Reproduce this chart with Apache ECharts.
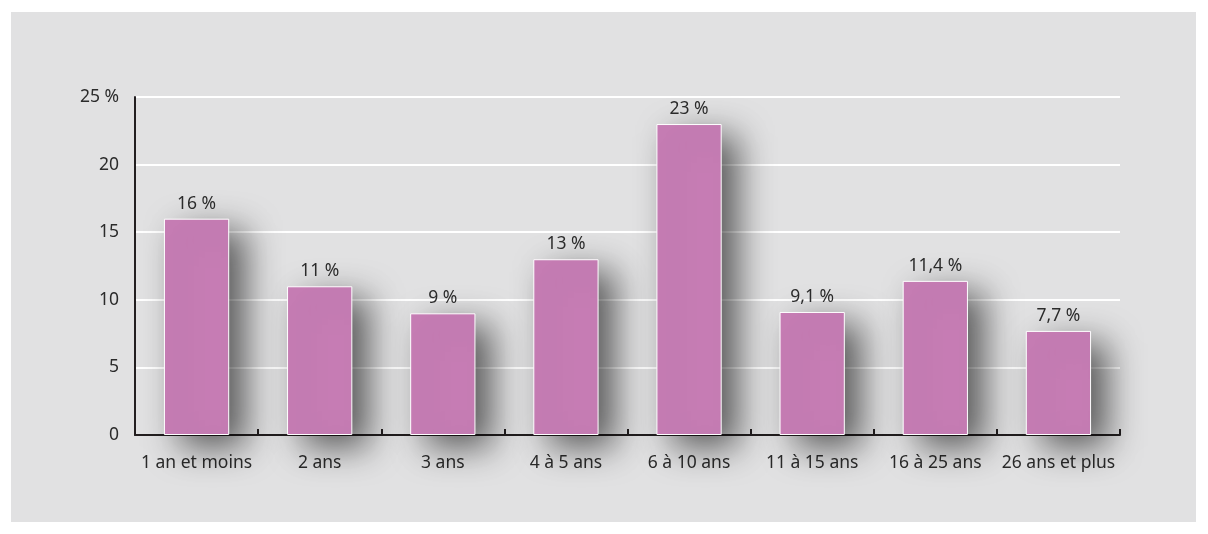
<!DOCTYPE html>
<html>
<head>
<meta charset="utf-8">
<script src="https://cdn.jsdelivr.net/npm/echarts@6/dist/echarts.min.js"></script>
<style>
  html, body { margin: 0; padding: 0; background: #ffffff; }
  #chart { width: 1208px; height: 534px; }
</style>
</head>
<body>
<div id="chart"></div>
<script>
// Ancienneté : répartition en pourcentage
const categories = ['1 an et moins', '2 ans', '3 ans', '4 à 5 ans', '6 à 10 ans', '11 à 15 ans', '16 à 25 ans', '26 ans et plus'];
const values = [16, 11, 9, 13, 23, 9.1, 11.4, 7.7];
const yTicks = [0, 5, 10, 15, 20, 25];

const FONT = 'Noto Sans';
const TEXT = '#2b2b2b';
const AXIS = '#231f20';

const chart = echarts.init(document.getElementById('chart'), null, { renderer: 'canvas' });

chart.setOption({
  animation: false,
  backgroundColor: '#ffffff',
  graphic: [{
    type: 'rect',
    z: -10,
    shape: { x: 11, y: 12, width: 1185, height: 510 },
    style: { fill: '#e1e1e2' }
  }],
  grid: { left: 135, right: 88, top: 97, bottom: 99, containLabel: false },
  xAxis: {
    type: 'category',
    data: categories,
    axisLine: { show: true, lineStyle: { color: AXIS, width: 2 } },
    axisTick: { show: true, inside: true, length: 6, alignWithLabel: false, lineStyle: { color: AXIS, width: 2 } },
    axisLabel: { color: TEXT, fontFamily: FONT, fontSize: 17.5, margin: 19, interval: 0 },
    splitLine: { show: false }
  },
  yAxis: {
    type: 'value',
    min: yTicks[0],
    max: yTicks[yTicks.length - 1],
    interval: 5,
    axisLine: { show: true, lineStyle: { color: AXIS, width: 2 } },
    axisTick: { show: false },
    axisLabel: {
      color: TEXT, fontFamily: FONT, fontSize: 17.5, margin: 16,
      padding: [0, 0, 4, 0],
      formatter: v => (v === yTicks[yTicks.length - 1] ? v + ' %' : String(v))
    },
    splitLine: { show: true, lineStyle: { color: '#ffffff', width: 2 } }
  },
  series: [{
    type: 'bar',
    data: values,
    barWidth: '53%',
    itemStyle: {
      color: '#c77db5',
      borderColor: '#ffffff',
      borderWidth: 1,
      shadowColor: 'rgba(0,0,0,0.6)',
      shadowBlur: 34,
      shadowOffsetX: 16,
      shadowOffsetY: 12
    },
    label: {
      show: true,
      position: 'top',
      distance: 6,
      color: TEXT,
      fontFamily: FONT,
      fontSize: 17.5,
      formatter: p => String(p.value).replace('.', ',') + ' %'
    }
  }]
});
</script>
</body>
</html>
